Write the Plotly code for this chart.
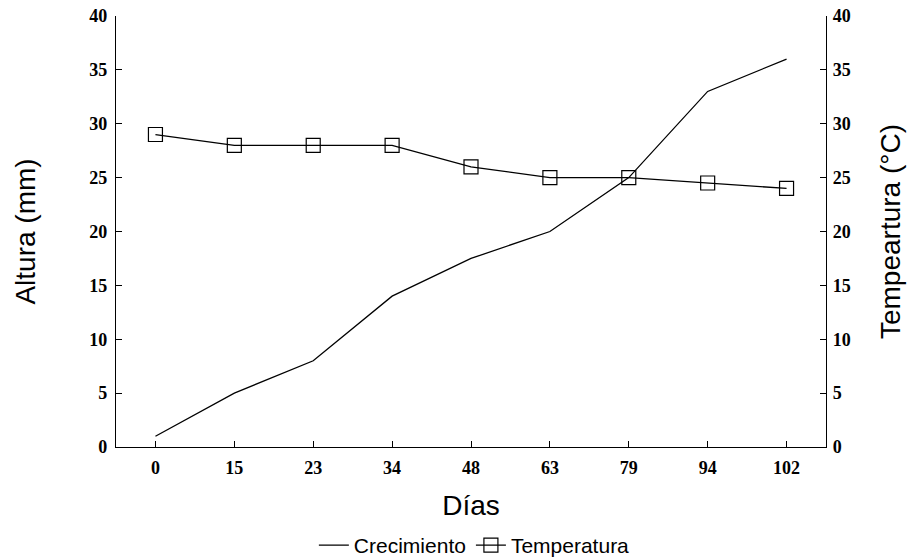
import plotly.graph_objects as go

dias = ["0", "15", "23", "34", "48", "63", "79", "94", "102"]
crecimiento = [1, 5, 8, 14, 17.5, 20, 25, 33, 36]
temperatura = [29, 28, 28, 28, 26, 25, 25, 24.5, 24]
yticks = [0, 5, 10, 15, 20, 25, 30, 35, 40]

fig = go.Figure()
fig.add_trace(go.Scatter(x=dias, y=crecimiento, mode="lines", name="Crecimiento",
                         line=dict(color="black", width=1.3)))
fig.add_trace(go.Scatter(x=dias, y=temperatura, mode="lines+markers", name="Temperatura",
                         line=dict(color="black", width=1.3),
                         marker=dict(symbol="square-open", size=14, color="black",
                                     line=dict(width=1.2, color="black")),
                         yaxis="y2"))

tickfont = dict(family="Liberation Serif", size=18, color="black", weight="bold")
titlefont = dict(family="Liberation Sans", size=28, color="black")

fig.update_layout(
    width=914, height=560,
    margin=dict(l=116, r=88, t=16, b=113, autoexpand=False),
    plot_bgcolor="white", paper_bgcolor="white",
    showlegend=True,
    legend=dict(orientation="h", x=0.519, xanchor="center", xref="container",
                y=0.026, yref="container", yanchor="middle",
                font=dict(family="Liberation Sans", size=21, color="black"),
                itemwidth=30, tracegroupgap=0),
    xaxis=dict(type="category", range=[-0.5, 8.5], showline=True, linecolor="black",
               linewidth=1.3, ticks="inside", ticklen=6, tickcolor="black",
               tickfont=tickfont, showgrid=False, zeroline=False, ticklabelstandoff=4,
               automargin=False,
               title=dict(text="Días", font=titlefont, standoff=18)),
    yaxis=dict(range=[0, 40], tickvals=yticks, showline=True, linecolor="black",
               linewidth=1.3, ticks="inside", ticklen=6, tickcolor="black",
               tickfont=tickfont, showgrid=False, zeroline=False, ticklabelstandoff=4,
               automargin=False,
               title=dict(text="Altura (mm)", font=titlefont, standoff=45)),
    yaxis2=dict(range=[0, 40], tickvals=yticks, overlaying="y", side="right",
                showline=True, linecolor="black", linewidth=1.3, ticks="inside",
                ticklen=6, tickcolor="black", tickfont=tickfont, showgrid=False,
                zeroline=False, ticklabelstandoff=2, automargin=False,
                title=dict(text="Tempeartura (°C)", font=titlefont, standoff=30)),
)
fig.write_html("out.html")
